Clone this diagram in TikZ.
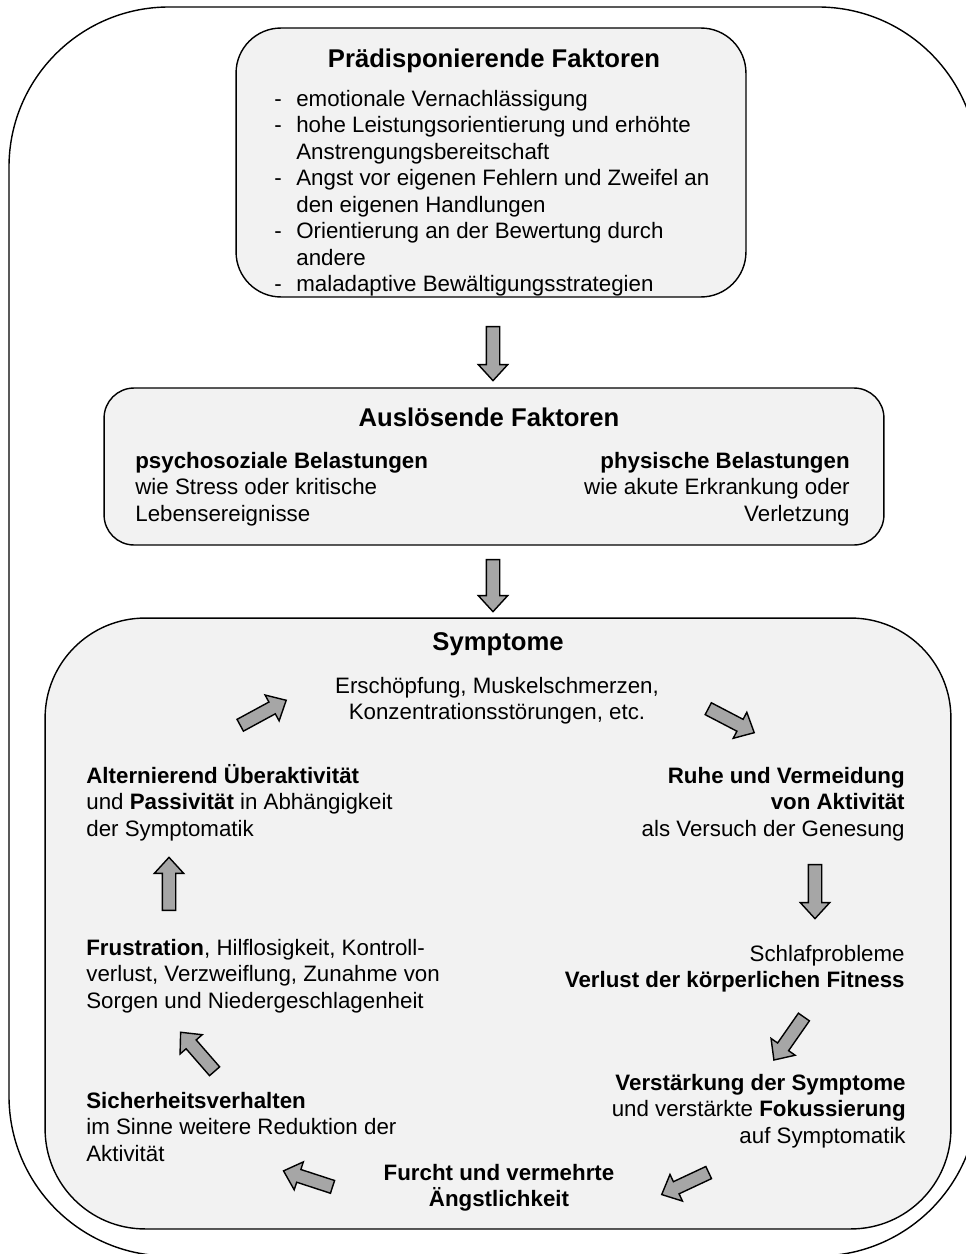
\documentclass[tikz,border=0pt]{standalone}
\usepackage{fontspec}
\setmainfont{Liberation Sans}
\usetikzlibrary{shapes.arrows,calc}
\definecolor{boxfill}{HTML}{F2F2F2}
\definecolor{arrowfill}{HTML}{A6A6A6}
\newcommand\tst{\rule{0pt}{0.95em}}
\newcommand\blockarrow[2]{\path let \p1=(#1), \p2=(#2), \n1={atan2(\y2-\y1,\x2-\x1)}, \n2={veclen(\x2-\x1,\y2-\y1)} in node[bigarrow, minimum height=\n2, rotate=\n1] at ($(#1)!0.5!(#2)$) {};}
\begin{document}
\begin{tikzpicture}[x=0.02cm,y=-0.02cm,
  boxshape/.style={draw=black, line width=0.8pt, fill=boxfill, rectangle, inner sep=0pt},
  body/.style={font=\fontsize{12.7}{15.1}\selectfont, inner sep=0pt},
  ttl/.style={font=\fontsize{14.6}{17}\selectfont\bfseries, inner sep=0pt, anchor=base},
  bigarrow/.style={single arrow, draw=black, fill=arrowfill, line width=0.8pt, inner sep=0pt,
    text height=0.12cm, text depth=0.12cm, text width=0pt,
    single arrow head extend=0.16cm, single arrow tip angle=85},
]
\useasboundingbox (0,0) rectangle (966,1254);
\clip (0,0) rectangle (966,1254);
\fill[white] (0,0) rectangle (966,1254);
% outer frame
\draw[line width=0.8pt, rounded corners=3.2cm] (9,7) rectangle (978,1256);
% boxes
\node[boxshape, rounded corners=0.9cm, minimum width=10.2cm, minimum height=5.38cm] (b1) at (491,162.5) {};
\node[boxshape, rounded corners=0.6cm, minimum width=15.6cm, minimum height=3.14cm] (b2) at (494,466.5) {};
\node[boxshape, rounded corners=2cm, minimum width=18.12cm, minimum height=12.22cm] (b3) at (498,923.5) {};
% titles
\node[ttl] (t1) at (494,67) {Prädisponierende Faktoren};
\node[ttl] (t2) at (489,426) {Auslösende Faktoren};
\node[ttl] (t3) at (498,650) {Symptome};
% box 1 list
\node[body, anchor=north west, align=left] (list) at (274,84.7) {\tst\makebox[0.44cm][l]{-}emotionale Vernachlässigung\\
\makebox[0.44cm][l]{-}hohe Leistungsorientierung und erhöhte\\
\hspace*{0.44cm}Anstrengungsbereitschaft\\
\makebox[0.44cm][l]{-}Angst vor eigenen Fehlern und Zweifel an\\
\hspace*{0.44cm}den eigenen Handlungen\\
\makebox[0.44cm][l]{-}Orientierung an der Bewertung durch\\
\hspace*{0.44cm}andere\\
\makebox[0.44cm][l]{-}maladaptive Bewältigungsstrategien};
% box 2
\node[body, anchor=north west, align=left] (psy) at (135,446.7) {\tst\textbf{psychosoziale Belastungen}\\wie Stress oder kritische\\Lebensereignisse};
\node[body, anchor=north east, align=right] (phy) at (850,446.7) {\tst\textbf{physische Belastungen}\\wie akute Erkrankung oder\\Verletzung};
% box 3
\node[body, anchor=north, align=center] (sym) at (497,671.7) {\tst Erschöpfung, Muskelschmerzen,\\Konzentrationsstörungen, etc.};
\node[body, anchor=north east, align=right] (ruhe) at (905,761.7) {\tst\textbf{Ruhe und Vermeidung}\\\textbf{von Aktivität}\\als Versuch der Genesung};
\node[body, anchor=north east, align=right] (schlaf) at (905,939.7) {\tst Schlafprobleme\\\textbf{Verlust der körperlichen Fitness}};
\node[body, anchor=north east, align=right] (verst) at (906,1068.7) {\tst\textbf{Verstärkung der Symptome}\\und verstärkte \textbf{Fokussierung}\\auf Symptomatik};
\node[body, anchor=north, align=center] (furcht) at (499,1158.7) {\tst\textbf{Furcht und vermehrte}\\\textbf{Ängstlichkeit}};
\node[body, anchor=north west, align=left] (sich) at (86,1086.7) {\tst\textbf{Sicherheitsverhalten}\\im Sinne weitere Reduktion der\\Aktivität};
\node[body, anchor=north west, align=left] (frust) at (86,933.7) {\tst\textbf{Frustration}, Hilflosigkeit, Kontroll-\\verlust, Verzweiflung, Zunahme von\\Sorgen und Niedergeschlagenheit};
\node[body, anchor=north west, align=left] (alt) at (86,761.7) {\tst\textbf{Alternierend Überaktivität}\\und \textbf{Passivität} in Abhängigkeit\\der Symptomatik};
% arrow endpoints
\coordinate (a1t) at (493,323); \coordinate (a1h) at (493,377);
\coordinate (a2t) at (493,556); \coordinate (a2h) at (493,608);
\coordinate (c1t) at (237,727); \coordinate (c1h) at (283,702);
\coordinate (c2t) at (705,707); \coordinate (c2h) at (751,731);
\coordinate (c3t) at (815,861); \coordinate (c3h) at (815,915);
\coordinate (c4t) at (806,1014); \coordinate (c4h) at (776,1057);
\coordinate (c5t) at (712,1171); \coordinate (c5h) at (665,1193);
\coordinate (c6t) at (336,1188); \coordinate (c6h) at (287,1172);
\coordinate (c7t) at (217,1074); \coordinate (c7h) at (183,1035);
\coordinate (c8t) at (169,914); \coordinate (c8h) at (169,861);
\blockarrow{a1t}{a1h}
\blockarrow{a2t}{a2h}
\blockarrow{c1t}{c1h}
\blockarrow{c2t}{c2h}
\blockarrow{c3t}{c3h}
\blockarrow{c4t}{c4h}
\blockarrow{c5t}{c5h}
\blockarrow{c6t}{c6h}
\blockarrow{c7t}{c7h}
\blockarrow{c8t}{c8h}
\end{tikzpicture}
\end{document}
